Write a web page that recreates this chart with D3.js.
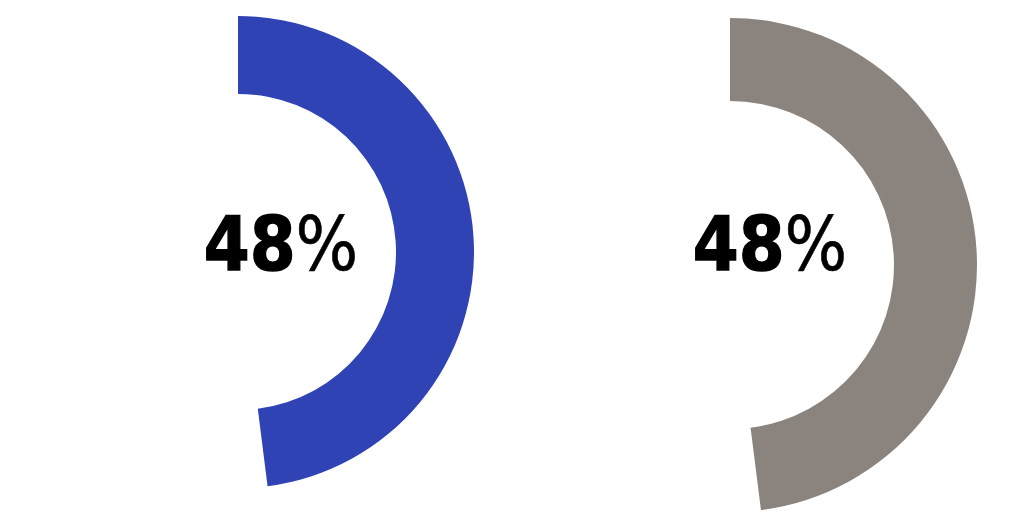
<!DOCTYPE html>
<html>
<head>
<meta charset="utf-8">
<script src="https://cdn.jsdelivr.net/npm/d3@7"></script>
<style>
  body { margin: 0; background: #fff; }
  svg { display: block; }
</style>
</head>
<body>
<div id="chart"></div>
<script>
// Chart values
var gaugeNames = ["left", "right"];
var gaugeValues = [48, 48];
var gaugeColors = ["#2f43b5", "#8b847e"];

var svgWidth = 1024;
var svgHeight = 512;

// geometry per gauge (centre, radii, label position)
var layout = [
  { cx: 238, cy: 252, outer: 236, inner: 158, tx: 281, ty: 270 },
  { cx: 730, cy: 265, outer: 247, inner: 164, tx: 770, ty: 270 }
];

var svg = d3.select("#chart")
  .append("svg")
  .attr("width", svgWidth)
  .attr("height", svgHeight);

// percent -> angle (clockwise from 12 o'clock)
var angleScale = d3.scaleLinear()
  .domain([0, 100])
  .range([0, 2 * Math.PI]);

gaugeValues.forEach(function(v, i) {
  var l = layout[i];
  var g = svg.append("g")
    .attr("class", "gauge " + gaugeNames[i])
    .attr("transform", `translate(${l.cx}, ${l.cy})`);

  var arc = d3.arc()
    .innerRadius(l.inner)
    .outerRadius(l.outer)
    .startAngle(0)
    .endAngle(angleScale(v));

  g.append("path")
    .attr("d", arc())
    .attr("fill", gaugeColors[i]);

  // label, squeezed a little horizontally to match the narrower face
  var label = svg.append("text")
    .attr("transform", `translate(${l.tx}, ${l.ty}) scale(0.88, 1)`)
    .attr("text-anchor", "middle")
    .attr("font-family", "DejaVu Sans, sans-serif")
    .attr("font-size", 75)
    .attr("fill", "#000");
  label.append("tspan")
    .attr("font-weight", "bold")
    .attr("stroke", "#000")
    .attr("stroke-width", 1.5)
    .text(v);
  label.append("tspan")
    .attr("font-weight", "normal")
    .attr("stroke", "#000")
    .attr("stroke-width", 0.6)
    .text("%");
});
</script>
</body>
</html>
